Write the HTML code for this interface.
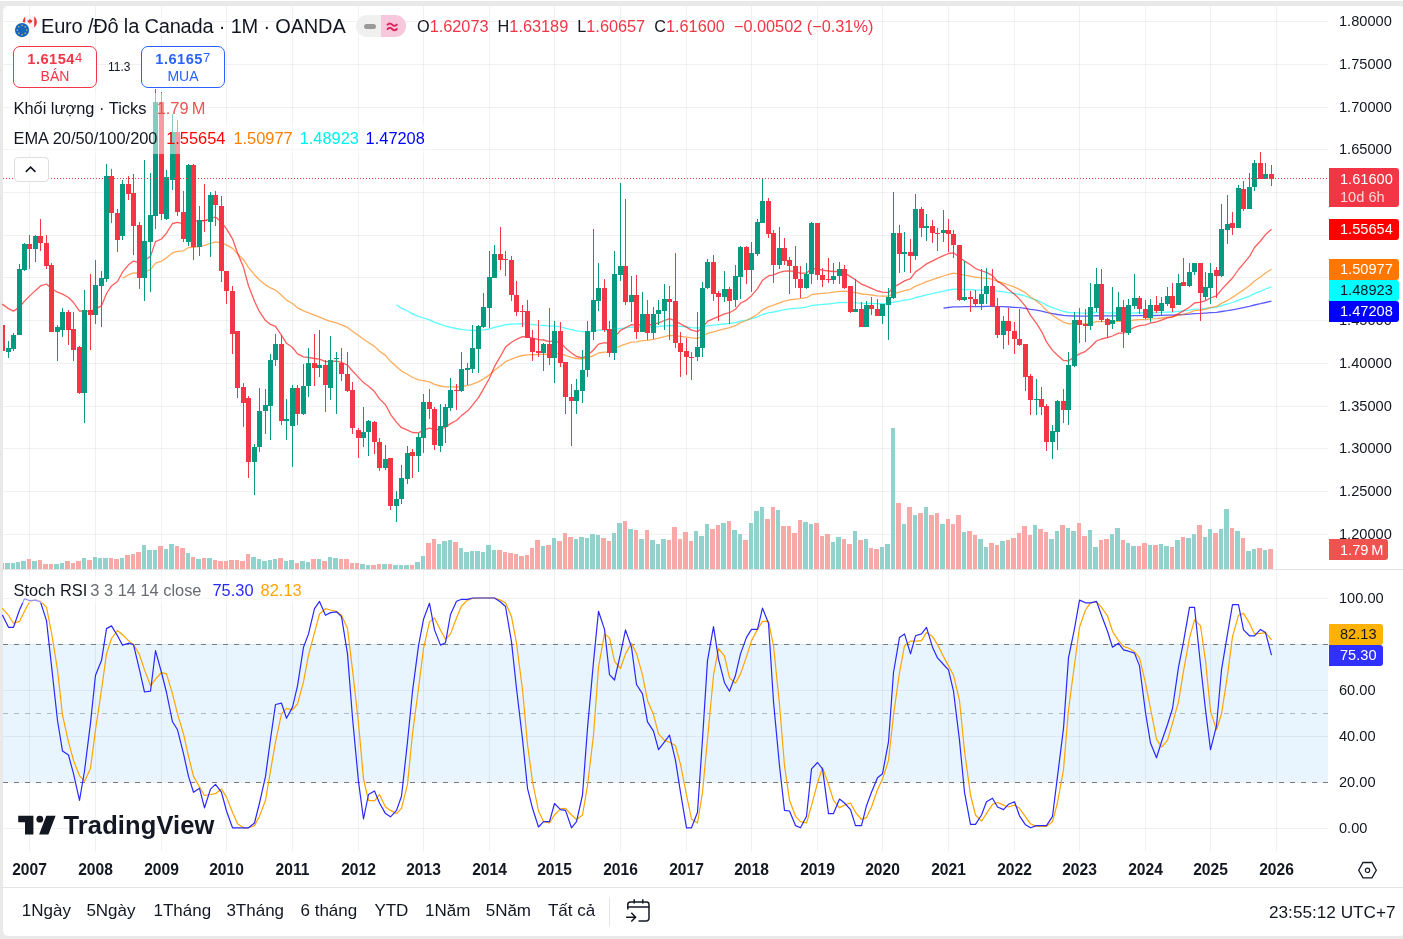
<!DOCTYPE html>
<html lang="vi"><head><meta charset="utf-8"><title>EURCAD</title>
<style>
html,body{margin:0;padding:0;width:1403px;height:939px;overflow:hidden;background:#e9e9e9;font-family:"Liberation Sans",Arial,sans-serif;color:#131722}
#topline{position:absolute;left:0;top:0;width:1403px;height:1px;background:#fff}
#panel{position:absolute;left:3px;top:6px;width:1402px;height:930px;background:#fff;border-radius:5px}
#chart{position:absolute;left:0;top:0}
.abs{position:absolute;white-space:nowrap}
.pl{position:absolute;left:1339px;font-size:14.6px;line-height:18px;white-space:nowrap;color:#131722}
.yr{position:absolute;top:861px;width:60px;text-align:center;font-weight:bold;font-size:15.6px;line-height:18px;color:#131722}
.lbl{position:absolute;left:1329px;width:70px;height:21px;border-radius:0 3px 3px 0;font-size:14.6px;line-height:21px;box-sizing:border-box;padding-left:11px;white-space:nowrap}
.leg{font-size:16.4px;line-height:20px;white-space:nowrap}
.tb{position:absolute;top:901px;font-size:17px;line-height:20px;color:#131722;white-space:nowrap}
</style></head><body>
<div id="topline"></div>
<div id="panel"></div>
<svg id="chart" width="1403" height="939" viewBox="0 0 1403 939" shape-rendering="crispEdges">
<rect x="3" y="21" width="1325" height="1" fill="#000" fill-opacity="0.055"/>
<rect x="3" y="64" width="1325" height="1" fill="#000" fill-opacity="0.055"/>
<rect x="3" y="107" width="1325" height="1" fill="#000" fill-opacity="0.055"/>
<rect x="3" y="149" width="1325" height="1" fill="#000" fill-opacity="0.055"/>
<rect x="3" y="192" width="1325" height="1" fill="#000" fill-opacity="0.055"/>
<rect x="3" y="235" width="1325" height="1" fill="#000" fill-opacity="0.055"/>
<rect x="3" y="277" width="1325" height="1" fill="#000" fill-opacity="0.055"/>
<rect x="3" y="320" width="1325" height="1" fill="#000" fill-opacity="0.055"/>
<rect x="3" y="363" width="1325" height="1" fill="#000" fill-opacity="0.055"/>
<rect x="3" y="406" width="1325" height="1" fill="#000" fill-opacity="0.055"/>
<rect x="3" y="448" width="1325" height="1" fill="#000" fill-opacity="0.055"/>
<rect x="3" y="491" width="1325" height="1" fill="#000" fill-opacity="0.055"/>
<rect x="3" y="534" width="1325" height="1" fill="#000" fill-opacity="0.055"/>
<rect x="3" y="598" width="1325" height="1" fill="#000" fill-opacity="0.055"/>
<rect x="3" y="644" width="1325" height="1" fill="#000" fill-opacity="0.055"/>
<rect x="3" y="690" width="1325" height="1" fill="#000" fill-opacity="0.055"/>
<rect x="3" y="736" width="1325" height="1" fill="#000" fill-opacity="0.055"/>
<rect x="3" y="782" width="1325" height="1" fill="#000" fill-opacity="0.055"/>
<rect x="3" y="828" width="1325" height="1" fill="#000" fill-opacity="0.055"/>
<rect x="3" y="644" width="1325" height="138" fill="#2196f3" fill-opacity="0.1"/>
<rect x="29" y="6" width="1" height="563" fill="#000" fill-opacity="0.055"/>
<rect x="29" y="570" width="1" height="281" fill="#000" fill-opacity="0.055"/>
<rect x="95" y="6" width="1" height="563" fill="#000" fill-opacity="0.055"/>
<rect x="95" y="570" width="1" height="281" fill="#000" fill-opacity="0.055"/>
<rect x="161" y="6" width="1" height="563" fill="#000" fill-opacity="0.055"/>
<rect x="161" y="570" width="1" height="281" fill="#000" fill-opacity="0.055"/>
<rect x="226" y="6" width="1" height="563" fill="#000" fill-opacity="0.055"/>
<rect x="226" y="570" width="1" height="281" fill="#000" fill-opacity="0.055"/>
<rect x="292" y="6" width="1" height="563" fill="#000" fill-opacity="0.055"/>
<rect x="292" y="570" width="1" height="281" fill="#000" fill-opacity="0.055"/>
<rect x="358" y="6" width="1" height="563" fill="#000" fill-opacity="0.055"/>
<rect x="358" y="570" width="1" height="281" fill="#000" fill-opacity="0.055"/>
<rect x="423" y="6" width="1" height="563" fill="#000" fill-opacity="0.055"/>
<rect x="423" y="570" width="1" height="281" fill="#000" fill-opacity="0.055"/>
<rect x="489" y="6" width="1" height="563" fill="#000" fill-opacity="0.055"/>
<rect x="489" y="570" width="1" height="281" fill="#000" fill-opacity="0.055"/>
<rect x="554" y="6" width="1" height="563" fill="#000" fill-opacity="0.055"/>
<rect x="554" y="570" width="1" height="281" fill="#000" fill-opacity="0.055"/>
<rect x="620" y="6" width="1" height="563" fill="#000" fill-opacity="0.055"/>
<rect x="620" y="570" width="1" height="281" fill="#000" fill-opacity="0.055"/>
<rect x="686" y="6" width="1" height="563" fill="#000" fill-opacity="0.055"/>
<rect x="686" y="570" width="1" height="281" fill="#000" fill-opacity="0.055"/>
<rect x="751" y="6" width="1" height="563" fill="#000" fill-opacity="0.055"/>
<rect x="751" y="570" width="1" height="281" fill="#000" fill-opacity="0.055"/>
<rect x="817" y="6" width="1" height="563" fill="#000" fill-opacity="0.055"/>
<rect x="817" y="570" width="1" height="281" fill="#000" fill-opacity="0.055"/>
<rect x="882" y="6" width="1" height="563" fill="#000" fill-opacity="0.055"/>
<rect x="882" y="570" width="1" height="281" fill="#000" fill-opacity="0.055"/>
<rect x="948" y="6" width="1" height="563" fill="#000" fill-opacity="0.055"/>
<rect x="948" y="570" width="1" height="281" fill="#000" fill-opacity="0.055"/>
<rect x="1014" y="6" width="1" height="563" fill="#000" fill-opacity="0.055"/>
<rect x="1014" y="570" width="1" height="281" fill="#000" fill-opacity="0.055"/>
<rect x="1079" y="6" width="1" height="563" fill="#000" fill-opacity="0.055"/>
<rect x="1079" y="570" width="1" height="281" fill="#000" fill-opacity="0.055"/>
<rect x="1145" y="6" width="1" height="563" fill="#000" fill-opacity="0.055"/>
<rect x="1145" y="570" width="1" height="281" fill="#000" fill-opacity="0.055"/>
<rect x="1210" y="6" width="1" height="563" fill="#000" fill-opacity="0.055"/>
<rect x="1210" y="570" width="1" height="281" fill="#000" fill-opacity="0.055"/>
<rect x="1276" y="6" width="1" height="563" fill="#000" fill-opacity="0.055"/>
<rect x="1276" y="570" width="1" height="281" fill="#000" fill-opacity="0.055"/>
<line x1="3" x2="1328" y1="644.5" y2="644.5" stroke="#787b86" stroke-width="1" stroke-dasharray="5 6"/>
<line x1="3" x2="1328" y1="782.5" y2="782.5" stroke="#787b86" stroke-width="1" stroke-dasharray="5 6"/>
<line x1="3" x2="1328" y1="713.5" y2="713.5" stroke="#787b86" stroke-opacity="0.5" stroke-width="1" stroke-dasharray="5 6"/>
<rect x="3" y="563" width="1" height="6" fill="#f7a9a7"/>
<rect x="5" y="563" width="5" height="6" fill="#92d2cc"/>
<rect x="11" y="563" width="4" height="6" fill="#92d2cc"/>
<rect x="16" y="562" width="4" height="7" fill="#92d2cc"/>
<rect x="21" y="561" width="5" height="8" fill="#92d2cc"/>
<rect x="27" y="559" width="4" height="10" fill="#f7a9a7"/>
<rect x="32" y="561" width="5" height="8" fill="#92d2cc"/>
<rect x="38" y="560" width="4" height="9" fill="#f7a9a7"/>
<rect x="43" y="564" width="5" height="5" fill="#f7a9a7"/>
<rect x="49" y="564" width="4" height="5" fill="#f7a9a7"/>
<rect x="54" y="564" width="5" height="5" fill="#92d2cc"/>
<rect x="60" y="563" width="4" height="6" fill="#92d2cc"/>
<rect x="65" y="561" width="5" height="8" fill="#f7a9a7"/>
<rect x="71" y="563" width="4" height="6" fill="#f7a9a7"/>
<rect x="76" y="561" width="5" height="8" fill="#f7a9a7"/>
<rect x="82" y="558" width="4" height="11" fill="#92d2cc"/>
<rect x="87" y="560" width="5" height="9" fill="#f7a9a7"/>
<rect x="93" y="557" width="4" height="12" fill="#92d2cc"/>
<rect x="98" y="558" width="4" height="11" fill="#92d2cc"/>
<rect x="103" y="558" width="5" height="11" fill="#92d2cc"/>
<rect x="109" y="558" width="4" height="11" fill="#f7a9a7"/>
<rect x="114" y="559" width="5" height="10" fill="#f7a9a7"/>
<rect x="120" y="558" width="4" height="11" fill="#92d2cc"/>
<rect x="125" y="555" width="5" height="14" fill="#f7a9a7"/>
<rect x="131" y="554" width="4" height="15" fill="#f7a9a7"/>
<rect x="136" y="552" width="5" height="17" fill="#f7a9a7"/>
<rect x="142" y="545" width="4" height="24" fill="#92d2cc"/>
<rect x="147" y="550" width="5" height="19" fill="#92d2cc"/>
<rect x="153" y="550" width="4" height="19" fill="#92d2cc"/>
<rect x="158" y="546" width="5" height="23" fill="#f7a9a7"/>
<rect x="164" y="549" width="4" height="20" fill="#92d2cc"/>
<rect x="169" y="544" width="5" height="25" fill="#92d2cc"/>
<rect x="175" y="546" width="4" height="23" fill="#f7a9a7"/>
<rect x="180" y="548" width="5" height="21" fill="#f7a9a7"/>
<rect x="186" y="553" width="4" height="16" fill="#92d2cc"/>
<rect x="191" y="557" width="4" height="12" fill="#f7a9a7"/>
<rect x="196" y="559" width="5" height="10" fill="#92d2cc"/>
<rect x="202" y="558" width="4" height="11" fill="#f7a9a7"/>
<rect x="207" y="558" width="5" height="11" fill="#92d2cc"/>
<rect x="213" y="560" width="4" height="9" fill="#f7a9a7"/>
<rect x="218" y="561" width="5" height="8" fill="#f7a9a7"/>
<rect x="224" y="561" width="4" height="8" fill="#f7a9a7"/>
<rect x="229" y="560" width="5" height="9" fill="#f7a9a7"/>
<rect x="235" y="560" width="4" height="9" fill="#f7a9a7"/>
<rect x="240" y="561" width="5" height="8" fill="#f7a9a7"/>
<rect x="246" y="554" width="4" height="15" fill="#f7a9a7"/>
<rect x="251" y="557" width="5" height="12" fill="#92d2cc"/>
<rect x="257" y="559" width="4" height="10" fill="#92d2cc"/>
<rect x="262" y="561" width="5" height="8" fill="#92d2cc"/>
<rect x="268" y="560" width="4" height="9" fill="#92d2cc"/>
<rect x="273" y="559" width="4" height="10" fill="#92d2cc"/>
<rect x="278" y="558" width="5" height="11" fill="#f7a9a7"/>
<rect x="284" y="561" width="4" height="8" fill="#92d2cc"/>
<rect x="289" y="560" width="5" height="9" fill="#92d2cc"/>
<rect x="295" y="563" width="4" height="6" fill="#f7a9a7"/>
<rect x="300" y="561" width="5" height="8" fill="#92d2cc"/>
<rect x="306" y="562" width="4" height="7" fill="#92d2cc"/>
<rect x="311" y="559" width="5" height="10" fill="#f7a9a7"/>
<rect x="317" y="559" width="4" height="10" fill="#92d2cc"/>
<rect x="322" y="561" width="5" height="8" fill="#f7a9a7"/>
<rect x="328" y="557" width="4" height="12" fill="#92d2cc"/>
<rect x="333" y="558" width="5" height="11" fill="#92d2cc"/>
<rect x="339" y="559" width="4" height="10" fill="#f7a9a7"/>
<rect x="344" y="559" width="5" height="10" fill="#f7a9a7"/>
<rect x="350" y="563" width="4" height="6" fill="#f7a9a7"/>
<rect x="355" y="563" width="4" height="6" fill="#f7a9a7"/>
<rect x="360" y="564" width="5" height="5" fill="#92d2cc"/>
<rect x="366" y="565" width="4" height="4" fill="#92d2cc"/>
<rect x="371" y="565" width="5" height="4" fill="#f7a9a7"/>
<rect x="377" y="564" width="4" height="5" fill="#f7a9a7"/>
<rect x="382" y="564" width="5" height="5" fill="#92d2cc"/>
<rect x="388" y="564" width="4" height="5" fill="#f7a9a7"/>
<rect x="393" y="565" width="5" height="4" fill="#92d2cc"/>
<rect x="399" y="565" width="4" height="4" fill="#92d2cc"/>
<rect x="404" y="565" width="5" height="4" fill="#92d2cc"/>
<rect x="410" y="565" width="4" height="4" fill="#f7a9a7"/>
<rect x="415" y="562" width="5" height="7" fill="#92d2cc"/>
<rect x="421" y="556" width="4" height="13" fill="#92d2cc"/>
<rect x="426" y="543" width="5" height="26" fill="#f7a9a7"/>
<rect x="432" y="539" width="4" height="30" fill="#f7a9a7"/>
<rect x="437" y="544" width="4" height="25" fill="#92d2cc"/>
<rect x="442" y="541" width="5" height="28" fill="#92d2cc"/>
<rect x="448" y="540" width="4" height="29" fill="#92d2cc"/>
<rect x="453" y="542" width="5" height="27" fill="#f7a9a7"/>
<rect x="459" y="548" width="4" height="21" fill="#92d2cc"/>
<rect x="464" y="552" width="5" height="17" fill="#92d2cc"/>
<rect x="470" y="551" width="4" height="18" fill="#92d2cc"/>
<rect x="475" y="551" width="5" height="18" fill="#92d2cc"/>
<rect x="481" y="552" width="4" height="17" fill="#92d2cc"/>
<rect x="486" y="545" width="5" height="24" fill="#92d2cc"/>
<rect x="492" y="550" width="4" height="19" fill="#92d2cc"/>
<rect x="497" y="550" width="5" height="19" fill="#f7a9a7"/>
<rect x="503" y="552" width="4" height="17" fill="#f7a9a7"/>
<rect x="508" y="553" width="5" height="16" fill="#f7a9a7"/>
<rect x="514" y="554" width="4" height="15" fill="#f7a9a7"/>
<rect x="519" y="556" width="5" height="13" fill="#f7a9a7"/>
<rect x="525" y="555" width="4" height="14" fill="#f7a9a7"/>
<rect x="530" y="548" width="4" height="21" fill="#f7a9a7"/>
<rect x="535" y="540" width="5" height="29" fill="#f7a9a7"/>
<rect x="541" y="546" width="4" height="23" fill="#92d2cc"/>
<rect x="546" y="545" width="5" height="24" fill="#f7a9a7"/>
<rect x="552" y="538" width="4" height="31" fill="#92d2cc"/>
<rect x="557" y="541" width="5" height="28" fill="#f7a9a7"/>
<rect x="563" y="533" width="4" height="36" fill="#f7a9a7"/>
<rect x="568" y="537" width="5" height="32" fill="#f7a9a7"/>
<rect x="574" y="539" width="4" height="30" fill="#92d2cc"/>
<rect x="579" y="537" width="5" height="32" fill="#92d2cc"/>
<rect x="585" y="538" width="4" height="31" fill="#92d2cc"/>
<rect x="590" y="534" width="5" height="35" fill="#92d2cc"/>
<rect x="596" y="535" width="4" height="34" fill="#92d2cc"/>
<rect x="601" y="538" width="5" height="31" fill="#f7a9a7"/>
<rect x="607" y="541" width="4" height="28" fill="#f7a9a7"/>
<rect x="612" y="533" width="4" height="36" fill="#92d2cc"/>
<rect x="617" y="523" width="5" height="46" fill="#92d2cc"/>
<rect x="623" y="521" width="4" height="48" fill="#f7a9a7"/>
<rect x="628" y="529" width="5" height="40" fill="#92d2cc"/>
<rect x="634" y="530" width="4" height="39" fill="#f7a9a7"/>
<rect x="639" y="539" width="5" height="30" fill="#92d2cc"/>
<rect x="645" y="530" width="4" height="39" fill="#f7a9a7"/>
<rect x="650" y="540" width="5" height="29" fill="#92d2cc"/>
<rect x="656" y="544" width="4" height="25" fill="#92d2cc"/>
<rect x="661" y="539" width="5" height="30" fill="#92d2cc"/>
<rect x="667" y="540" width="4" height="29" fill="#f7a9a7"/>
<rect x="672" y="527" width="5" height="42" fill="#f7a9a7"/>
<rect x="678" y="539" width="4" height="30" fill="#f7a9a7"/>
<rect x="683" y="532" width="5" height="37" fill="#f7a9a7"/>
<rect x="689" y="541" width="4" height="28" fill="#f7a9a7"/>
<rect x="694" y="531" width="4" height="38" fill="#92d2cc"/>
<rect x="699" y="536" width="5" height="33" fill="#92d2cc"/>
<rect x="705" y="524" width="4" height="45" fill="#92d2cc"/>
<rect x="710" y="529" width="5" height="40" fill="#f7a9a7"/>
<rect x="716" y="525" width="4" height="44" fill="#f7a9a7"/>
<rect x="721" y="523" width="5" height="46" fill="#92d2cc"/>
<rect x="727" y="521" width="4" height="48" fill="#f7a9a7"/>
<rect x="732" y="530" width="5" height="39" fill="#92d2cc"/>
<rect x="738" y="534" width="4" height="35" fill="#92d2cc"/>
<rect x="743" y="540" width="5" height="29" fill="#f7a9a7"/>
<rect x="749" y="523" width="4" height="46" fill="#92d2cc"/>
<rect x="754" y="511" width="5" height="58" fill="#92d2cc"/>
<rect x="760" y="507" width="4" height="62" fill="#92d2cc"/>
<rect x="765" y="519" width="5" height="50" fill="#f7a9a7"/>
<rect x="771" y="507" width="4" height="62" fill="#f7a9a7"/>
<rect x="776" y="510" width="4" height="59" fill="#92d2cc"/>
<rect x="781" y="526" width="5" height="43" fill="#f7a9a7"/>
<rect x="787" y="526" width="4" height="43" fill="#f7a9a7"/>
<rect x="792" y="533" width="5" height="36" fill="#f7a9a7"/>
<rect x="798" y="520" width="4" height="49" fill="#f7a9a7"/>
<rect x="803" y="522" width="5" height="47" fill="#92d2cc"/>
<rect x="809" y="524" width="4" height="45" fill="#92d2cc"/>
<rect x="814" y="523" width="5" height="46" fill="#f7a9a7"/>
<rect x="820" y="536" width="4" height="33" fill="#f7a9a7"/>
<rect x="825" y="534" width="5" height="35" fill="#f7a9a7"/>
<rect x="831" y="542" width="4" height="27" fill="#92d2cc"/>
<rect x="836" y="537" width="5" height="32" fill="#92d2cc"/>
<rect x="842" y="539" width="4" height="30" fill="#f7a9a7"/>
<rect x="847" y="544" width="5" height="25" fill="#f7a9a7"/>
<rect x="853" y="531" width="4" height="38" fill="#92d2cc"/>
<rect x="858" y="540" width="5" height="29" fill="#f7a9a7"/>
<rect x="864" y="539" width="4" height="30" fill="#92d2cc"/>
<rect x="869" y="548" width="4" height="21" fill="#f7a9a7"/>
<rect x="874" y="549" width="5" height="20" fill="#f7a9a7"/>
<rect x="880" y="547" width="4" height="22" fill="#92d2cc"/>
<rect x="885" y="544" width="5" height="25" fill="#92d2cc"/>
<rect x="891" y="428" width="4" height="141" fill="#92d2cc"/>
<rect x="896" y="503" width="5" height="66" fill="#f7a9a7"/>
<rect x="902" y="524" width="4" height="45" fill="#92d2cc"/>
<rect x="907" y="507" width="5" height="62" fill="#f7a9a7"/>
<rect x="913" y="515" width="4" height="54" fill="#92d2cc"/>
<rect x="918" y="513" width="5" height="56" fill="#f7a9a7"/>
<rect x="924" y="507" width="4" height="62" fill="#92d2cc"/>
<rect x="929" y="515" width="5" height="54" fill="#f7a9a7"/>
<rect x="935" y="513" width="4" height="56" fill="#f7a9a7"/>
<rect x="940" y="524" width="5" height="45" fill="#92d2cc"/>
<rect x="946" y="519" width="4" height="50" fill="#f7a9a7"/>
<rect x="951" y="524" width="4" height="45" fill="#f7a9a7"/>
<rect x="956" y="515" width="5" height="54" fill="#f7a9a7"/>
<rect x="962" y="532" width="4" height="37" fill="#92d2cc"/>
<rect x="967" y="531" width="5" height="38" fill="#f7a9a7"/>
<rect x="973" y="535" width="4" height="34" fill="#f7a9a7"/>
<rect x="978" y="539" width="5" height="30" fill="#92d2cc"/>
<rect x="984" y="547" width="4" height="22" fill="#92d2cc"/>
<rect x="989" y="543" width="5" height="26" fill="#f7a9a7"/>
<rect x="995" y="545" width="4" height="24" fill="#f7a9a7"/>
<rect x="1000" y="541" width="5" height="28" fill="#92d2cc"/>
<rect x="1006" y="540" width="4" height="29" fill="#f7a9a7"/>
<rect x="1011" y="538" width="5" height="31" fill="#f7a9a7"/>
<rect x="1017" y="533" width="4" height="36" fill="#f7a9a7"/>
<rect x="1022" y="526" width="5" height="43" fill="#f7a9a7"/>
<rect x="1028" y="535" width="4" height="34" fill="#f7a9a7"/>
<rect x="1033" y="525" width="4" height="44" fill="#92d2cc"/>
<rect x="1038" y="529" width="5" height="40" fill="#f7a9a7"/>
<rect x="1044" y="532" width="4" height="37" fill="#f7a9a7"/>
<rect x="1049" y="539" width="5" height="30" fill="#92d2cc"/>
<rect x="1055" y="531" width="4" height="38" fill="#92d2cc"/>
<rect x="1060" y="525" width="5" height="44" fill="#f7a9a7"/>
<rect x="1066" y="528" width="4" height="41" fill="#92d2cc"/>
<rect x="1071" y="531" width="5" height="38" fill="#92d2cc"/>
<rect x="1077" y="523" width="4" height="46" fill="#f7a9a7"/>
<rect x="1082" y="536" width="5" height="33" fill="#f7a9a7"/>
<rect x="1088" y="530" width="4" height="39" fill="#92d2cc"/>
<rect x="1093" y="547" width="5" height="22" fill="#92d2cc"/>
<rect x="1099" y="540" width="4" height="29" fill="#f7a9a7"/>
<rect x="1104" y="539" width="5" height="30" fill="#f7a9a7"/>
<rect x="1110" y="534" width="4" height="35" fill="#92d2cc"/>
<rect x="1115" y="528" width="5" height="41" fill="#92d2cc"/>
<rect x="1121" y="540" width="4" height="29" fill="#f7a9a7"/>
<rect x="1126" y="543" width="4" height="26" fill="#92d2cc"/>
<rect x="1131" y="546" width="5" height="23" fill="#92d2cc"/>
<rect x="1137" y="546" width="4" height="23" fill="#f7a9a7"/>
<rect x="1142" y="543" width="5" height="26" fill="#f7a9a7"/>
<rect x="1148" y="545" width="4" height="24" fill="#92d2cc"/>
<rect x="1153" y="545" width="5" height="24" fill="#f7a9a7"/>
<rect x="1159" y="544" width="4" height="25" fill="#92d2cc"/>
<rect x="1164" y="546" width="5" height="23" fill="#92d2cc"/>
<rect x="1170" y="547" width="4" height="22" fill="#f7a9a7"/>
<rect x="1175" y="540" width="5" height="29" fill="#92d2cc"/>
<rect x="1181" y="537" width="4" height="32" fill="#f7a9a7"/>
<rect x="1186" y="538" width="5" height="31" fill="#92d2cc"/>
<rect x="1192" y="534" width="4" height="35" fill="#92d2cc"/>
<rect x="1197" y="525" width="5" height="44" fill="#f7a9a7"/>
<rect x="1203" y="537" width="4" height="32" fill="#92d2cc"/>
<rect x="1208" y="529" width="4" height="40" fill="#92d2cc"/>
<rect x="1213" y="533" width="5" height="36" fill="#f7a9a7"/>
<rect x="1219" y="529" width="4" height="40" fill="#92d2cc"/>
<rect x="1224" y="509" width="5" height="60" fill="#92d2cc"/>
<rect x="1230" y="528" width="4" height="41" fill="#f7a9a7"/>
<rect x="1235" y="531" width="5" height="38" fill="#92d2cc"/>
<rect x="1241" y="538" width="4" height="31" fill="#f7a9a7"/>
<rect x="1246" y="551" width="5" height="18" fill="#92d2cc"/>
<rect x="1252" y="549" width="4" height="20" fill="#92d2cc"/>
<rect x="1257" y="548" width="5" height="21" fill="#f7a9a7"/>
<rect x="1263" y="550" width="4" height="19" fill="#92d2cc"/>
<rect x="1268" y="549" width="5" height="20" fill="#f7a9a7"/>
<polyline points="943.5,308.2 948.5,307.5 953.5,306.9 959.5,306.8 964.5,306.7 970.5,306.7 975.5,306.6 981.5,306.5 986.5,306.3 992.5,306.3 997.5,306.6 1003.5,306.7 1008.5,307.0 1014.5,307.3 1019.5,307.7 1025.5,308.4 1030.5,309.3 1036.5,310.2 1041.5,311.1 1046.5,312.4 1052.5,313.6 1057.5,314.5 1063.5,315.4 1068.5,315.9 1074.5,316.0 1079.5,316.1 1085.5,316.2 1090.5,316.1 1096.5,315.7 1101.5,315.8 1107.5,315.9 1112.5,315.9 1118.5,315.8 1123.5,316.0 1128.5,315.9 1134.5,315.7 1139.5,315.6 1145.5,315.7 1150.5,315.6 1156.5,315.5 1161.5,315.4 1167.5,315.2 1172.5,315.1 1178.5,314.8 1183.5,314.5 1189.5,314.1 1194.5,313.6 1200.5,313.4 1205.5,313.1 1210.5,312.7 1216.5,312.4 1221.5,311.5 1227.5,310.7 1232.5,309.8 1238.5,308.6 1243.5,307.6 1249.5,306.4 1254.5,305.0 1260.5,303.7 1265.5,302.5 1271.5,301.2" fill="none" stroke="#0000ff" stroke-opacity="0.64" stroke-width="1.3" stroke-linejoin="round" shape-rendering="geometricPrecision"/>
<polyline points="396.5,304.7 401.5,308.2 407.5,311.0 412.5,313.9 418.5,316.3 423.5,318.0 429.5,319.8 434.5,322.3 440.5,324.4 445.5,326.0 450.5,327.3 456.5,328.5 461.5,329.3 467.5,330.1 472.5,330.5 478.5,330.4 483.5,329.9 489.5,328.9 494.5,327.4 500.5,326.0 505.5,324.7 511.5,324.1 516.5,323.9 522.5,323.7 527.5,323.9 532.5,324.5 538.5,325.1 543.5,325.4 549.5,326.1 554.5,326.2 560.5,326.9 565.5,328.3 571.5,329.7 576.5,330.9 582.5,331.7 587.5,331.7 593.5,331.1 598.5,330.2 604.5,330.2 609.5,330.6 614.5,329.5 620.5,328.3 625.5,327.8 631.5,327.1 636.5,327.2 642.5,326.9 647.5,327.1 653.5,326.8 658.5,326.5 664.5,325.9 669.5,325.5 675.5,325.8 680.5,326.3 686.5,326.9 691.5,327.6 697.5,328.0 702.5,327.2 707.5,325.9 713.5,325.2 718.5,324.7 724.5,324.0 729.5,323.5 735.5,322.6 740.5,321.1 746.5,320.1 751.5,318.7 757.5,316.8 762.5,314.5 768.5,312.9 773.5,312.0 779.5,310.7 784.5,309.7 789.5,308.9 795.5,308.3 800.5,307.9 806.5,307.2 811.5,305.5 817.5,304.9 822.5,304.4 828.5,304.0 833.5,303.4 839.5,302.7 844.5,302.4 850.5,302.6 855.5,302.8 861.5,303.2 866.5,303.3 871.5,303.4 877.5,303.6 882.5,303.6 888.5,303.5 893.5,302.1 899.5,301.2 904.5,300.2 910.5,299.3 915.5,297.5 921.5,296.2 926.5,294.8 932.5,293.6 937.5,292.4 943.5,291.1 948.5,290.0 953.5,289.1 959.5,289.3 964.5,289.5 970.5,289.7 975.5,290.0 981.5,290.1 986.5,290.0 992.5,290.3 997.5,291.2 1003.5,291.8 1008.5,292.6 1014.5,293.5 1019.5,294.5 1025.5,296.1 1030.5,298.2 1036.5,300.2 1041.5,302.3 1046.5,305.1 1052.5,307.6 1057.5,309.4 1063.5,311.4 1068.5,312.5 1074.5,312.6 1079.5,312.9 1085.5,313.1 1090.5,313.0 1096.5,312.4 1101.5,312.6 1107.5,312.8 1112.5,313.0 1118.5,312.9 1123.5,313.2 1128.5,313.1 1134.5,312.8 1139.5,312.7 1145.5,312.8 1150.5,312.7 1156.5,312.6 1161.5,312.4 1167.5,312.1 1172.5,312.0 1178.5,311.4 1183.5,310.9 1189.5,310.2 1194.5,309.2 1200.5,308.9 1205.5,308.5 1210.5,307.8 1216.5,307.2 1221.5,305.6 1227.5,304.0 1232.5,302.5 1238.5,300.2 1243.5,298.4 1249.5,296.2 1254.5,293.6 1260.5,291.3 1265.5,289.0 1271.5,286.8" fill="none" stroke="#00ffff" stroke-opacity="0.64" stroke-width="1.3" stroke-linejoin="round" shape-rendering="geometricPrecision"/>
<polyline points="122.5,278.2 128.5,274.9 133.5,272.9 139.5,273.1 144.5,271.9 150.5,269.6 155.5,263.1 161.5,261.1 166.5,257.8 172.5,252.9 177.5,251.3 183.5,250.8 188.5,247.5 193.5,247.4 199.5,246.3 204.5,245.3 210.5,243.4 215.5,241.9 221.5,243.0 226.5,244.9 232.5,248.4 237.5,253.9 243.5,259.7 248.5,267.6 254.5,274.7 259.5,280.0 265.5,284.9 270.5,287.9 275.5,290.1 281.5,295.2 286.5,300.1 292.5,303.5 297.5,307.8 303.5,310.9 308.5,312.9 314.5,315.1 319.5,317.1 325.5,319.7 330.5,321.3 336.5,322.8 341.5,324.8 347.5,327.4 352.5,331.3 358.5,335.5 363.5,339.3 368.5,342.5 374.5,346.4 379.5,351.2 385.5,355.4 390.5,361.3 396.5,366.7 401.5,371.1 407.5,374.3 412.5,377.5 418.5,379.8 423.5,380.7 429.5,381.8 434.5,384.3 440.5,386.0 445.5,386.8 450.5,386.9 456.5,387.0 461.5,386.3 467.5,385.6 472.5,384.2 478.5,381.9 483.5,378.9 489.5,374.9 494.5,370.2 500.5,365.8 505.5,361.7 511.5,359.1 516.5,357.2 522.5,355.5 527.5,354.8 532.5,354.6 538.5,354.6 543.5,354.2 549.5,354.3 554.5,353.4 560.5,353.8 565.5,355.4 571.5,357.3 576.5,358.5 582.5,359.0 587.5,357.9 593.5,355.6 598.5,353.0 604.5,352.1 609.5,352.1 614.5,349.0 620.5,345.8 625.5,344.1 631.5,342.2 636.5,341.8 642.5,340.7 647.5,340.4 653.5,339.4 658.5,338.2 664.5,336.7 669.5,335.3 675.5,335.6 680.5,336.3 686.5,337.1 691.5,337.9 697.5,338.3 702.5,336.3 707.5,333.4 713.5,331.8 718.5,330.4 724.5,328.8 729.5,327.7 735.5,325.7 740.5,322.6 746.5,320.5 751.5,317.9 757.5,314.2 762.5,309.7 768.5,306.8 773.5,305.1 779.5,302.9 784.5,301.2 789.5,299.9 795.5,299.1 800.5,298.6 806.5,297.7 811.5,294.7 817.5,293.9 822.5,293.4 828.5,292.9 833.5,292.2 839.5,291.3 844.5,291.2 850.5,292.0 855.5,292.7 861.5,294.0 866.5,294.4 871.5,295.0 877.5,295.9 882.5,296.2 888.5,296.2 893.5,293.7 899.5,292.2 904.5,290.6 910.5,289.3 915.5,286.1 921.5,283.9 926.5,281.6 932.5,279.7 937.5,277.9 943.5,276.0 948.5,274.4 953.5,273.2 959.5,274.3 964.5,275.2 970.5,276.1 975.5,277.2 981.5,277.9 986.5,278.2 992.5,279.3 997.5,281.5 1003.5,283.1 1008.5,285.0 1014.5,287.1 1019.5,289.4 1025.5,292.8 1030.5,297.0 1036.5,301.0 1041.5,305.1 1046.5,310.5 1052.5,315.3 1057.5,318.6 1063.5,322.2 1068.5,323.9 1074.5,323.7 1079.5,323.8 1085.5,323.9 1090.5,323.2 1096.5,321.7 1101.5,321.6 1107.5,321.7 1112.5,321.7 1118.5,321.1 1123.5,321.5 1128.5,320.9 1134.5,320.0 1139.5,319.6 1145.5,319.5 1150.5,318.9 1156.5,318.6 1161.5,318.0 1167.5,317.1 1172.5,316.8 1178.5,315.4 1183.5,314.3 1189.5,312.6 1194.5,310.7 1200.5,310.0 1205.5,309.1 1210.5,307.7 1216.5,306.4 1221.5,303.4 1227.5,300.3 1232.5,297.4 1238.5,293.2 1243.5,289.9 1249.5,285.8 1254.5,281.0 1260.5,277.0 1265.5,273.0 1271.5,269.2" fill="none" stroke="#ff7f00" stroke-opacity="0.64" stroke-width="1.3" stroke-linejoin="round" shape-rendering="geometricPrecision"/>
<polyline points="3.0,304.4 2.5,304.4 8.5,308.6 13.5,311.1 19.5,307.1 24.5,301.1 29.5,296.1 35.5,290.4 40.5,285.9 46.5,284.0 51.5,288.5 57.5,292.2 62.5,294.1 68.5,297.5 73.5,302.5 79.5,311.1 84.5,311.0 90.5,311.4 95.5,308.9 101.5,305.9 106.5,293.5 111.5,285.9 117.5,281.5 122.5,272.2 128.5,264.8 133.5,261.1 139.5,262.6 144.5,260.6 150.5,256.3 155.5,241.6 161.5,239.0 166.5,233.1 172.5,223.5 177.5,222.3 183.5,223.9 188.5,218.3 193.5,221.0 199.5,220.9 204.5,220.8 210.5,218.4 215.5,217.1 221.5,222.2 226.5,228.8 232.5,238.8 237.5,253.0 243.5,267.3 248.5,285.8 254.5,301.2 259.5,311.7 265.5,320.6 270.5,324.4 275.5,326.3 281.5,335.3 286.5,343.3 292.5,347.5 297.5,353.8 303.5,356.8 308.5,357.5 314.5,358.5 319.5,359.1 325.5,361.6 330.5,361.4 336.5,361.1 341.5,362.4 347.5,365.1 352.5,371.0 358.5,377.4 363.5,382.6 368.5,386.3 374.5,391.6 379.5,398.9 385.5,404.7 390.5,414.3 396.5,422.4 401.5,427.7 407.5,430.1 412.5,432.5 418.5,432.9 423.5,430.0 429.5,428.1 434.5,429.7 440.5,429.4 445.5,427.2 450.5,423.6 456.5,420.5 461.5,415.6 467.5,411.1 472.5,405.1 478.5,397.6 483.5,388.9 489.5,378.3 494.5,366.4 500.5,356.2 505.5,347.1 511.5,342.2 516.5,339.3 522.5,336.6 527.5,336.8 532.5,338.2 538.5,339.6 543.5,340.0 549.5,341.7 554.5,340.7 560.5,342.8 565.5,347.9 571.5,353.0 576.5,356.5 582.5,357.8 587.5,355.3 593.5,350.0 598.5,344.1 604.5,342.7 609.5,343.7 614.5,337.1 620.5,330.4 625.5,327.7 631.5,324.6 636.5,325.3 642.5,324.2 647.5,325.1 653.5,324.1 658.5,322.8 664.5,320.5 669.5,318.7 675.5,321.0 680.5,323.9 686.5,327.1 691.5,330.1 697.5,331.7 702.5,327.5 707.5,321.3 713.5,318.7 718.5,316.6 724.5,313.9 729.5,312.7 735.5,309.2 740.5,303.3 746.5,300.1 751.5,295.7 757.5,288.7 762.5,280.3 768.5,275.9 773.5,274.9 779.5,272.4 784.5,271.2 789.5,270.8 795.5,271.6 800.5,273.1 806.5,273.2 811.5,268.4 817.5,269.0 822.5,270.1 828.5,271.0 833.5,271.5 839.5,271.3 844.5,272.9 850.5,276.6 855.5,279.7 861.5,284.2 866.5,286.2 871.5,288.4 877.5,291.0 882.5,292.2 888.5,292.7 893.5,287.1 899.5,283.9 904.5,280.9 910.5,278.6 915.5,271.9 921.5,267.8 926.5,263.8 932.5,260.9 937.5,258.3 943.5,255.6 948.5,253.5 953.5,252.8 959.5,257.3 964.5,261.1 970.5,264.7 975.5,268.5 981.5,270.9 986.5,272.4 992.5,275.6 997.5,281.3 1003.5,285.1 1008.5,289.5 1014.5,294.2 1019.5,299.1 1025.5,306.4 1030.5,315.4 1036.5,323.4 1041.5,331.3 1046.5,341.9 1052.5,350.4 1057.5,355.2 1063.5,360.4 1068.5,360.8 1074.5,356.9 1079.5,353.9 1085.5,351.3 1090.5,347.0 1096.5,341.0 1101.5,339.0 1107.5,337.7 1112.5,336.0 1118.5,333.2 1123.5,333.2 1128.5,330.5 1134.5,327.4 1139.5,325.7 1145.5,324.9 1150.5,323.0 1156.5,321.9 1161.5,320.1 1167.5,317.8 1172.5,316.9 1178.5,313.6 1183.5,310.9 1189.5,307.2 1194.5,303.0 1200.5,302.1 1205.5,300.7 1210.5,298.0 1216.5,295.9 1221.5,289.6 1227.5,283.3 1232.5,278.0 1238.5,269.5 1243.5,263.7 1249.5,256.4 1254.5,247.5 1260.5,241.0 1265.5,234.6 1271.5,229.2" fill="none" stroke="#ff0000" stroke-opacity="0.64" stroke-width="1.3" stroke-linejoin="round" shape-rendering="geometricPrecision"/>
<rect x="3" y="325" width="2" height="26" fill="#f23645"/>
<rect x="8" y="341" width="1" height="17" fill="#089981"/>
<rect x="6" y="348" width="5" height="4" fill="#089981"/>
<rect x="13" y="333" width="1" height="18" fill="#089981"/>
<rect x="11" y="335" width="5" height="14" fill="#089981"/>
<rect x="19" y="264" width="1" height="71" fill="#089981"/>
<rect x="17" y="269" width="5" height="66" fill="#089981"/>
<rect x="24" y="243" width="1" height="28" fill="#089981"/>
<rect x="22" y="244" width="5" height="26" fill="#089981"/>
<rect x="29" y="235" width="1" height="34" fill="#f23645"/>
<rect x="27" y="244" width="5" height="5" fill="#f23645"/>
<rect x="35" y="235" width="1" height="27" fill="#089981"/>
<rect x="33" y="236" width="5" height="13" fill="#089981"/>
<rect x="40" y="219" width="1" height="32" fill="#f23645"/>
<rect x="38" y="236" width="5" height="7" fill="#f23645"/>
<rect x="46" y="235" width="1" height="34" fill="#f23645"/>
<rect x="44" y="243" width="5" height="23" fill="#f23645"/>
<rect x="51" y="263" width="1" height="69" fill="#f23645"/>
<rect x="49" y="265" width="5" height="67" fill="#f23645"/>
<rect x="57" y="325" width="1" height="36" fill="#089981"/>
<rect x="55" y="327" width="5" height="5" fill="#089981"/>
<rect x="62" y="308" width="1" height="29" fill="#089981"/>
<rect x="60" y="312" width="5" height="18" fill="#089981"/>
<rect x="68" y="310" width="1" height="35" fill="#f23645"/>
<rect x="66" y="312" width="5" height="18" fill="#f23645"/>
<rect x="73" y="312" width="1" height="49" fill="#f23645"/>
<rect x="71" y="329" width="5" height="21" fill="#f23645"/>
<rect x="79" y="346" width="1" height="48" fill="#f23645"/>
<rect x="77" y="347" width="5" height="46" fill="#f23645"/>
<rect x="84" y="290" width="1" height="133" fill="#089981"/>
<rect x="82" y="310" width="5" height="83" fill="#089981"/>
<rect x="90" y="274" width="1" height="76" fill="#f23645"/>
<rect x="88" y="310" width="5" height="5" fill="#f23645"/>
<rect x="95" y="260" width="1" height="64" fill="#089981"/>
<rect x="93" y="285" width="5" height="30" fill="#089981"/>
<rect x="101" y="271" width="1" height="56" fill="#089981"/>
<rect x="99" y="278" width="5" height="8" fill="#089981"/>
<rect x="106" y="164" width="1" height="118" fill="#089981"/>
<rect x="104" y="176" width="5" height="103" fill="#089981"/>
<rect x="111" y="169" width="1" height="54" fill="#f23645"/>
<rect x="109" y="176" width="5" height="37" fill="#f23645"/>
<rect x="117" y="209" width="1" height="43" fill="#f23645"/>
<rect x="115" y="213" width="5" height="27" fill="#f23645"/>
<rect x="122" y="180" width="1" height="60" fill="#089981"/>
<rect x="120" y="184" width="5" height="52" fill="#089981"/>
<rect x="128" y="176" width="1" height="24" fill="#f23645"/>
<rect x="126" y="184" width="5" height="10" fill="#f23645"/>
<rect x="133" y="174" width="1" height="81" fill="#f23645"/>
<rect x="131" y="193" width="5" height="33" fill="#f23645"/>
<rect x="139" y="222" width="1" height="67" fill="#f23645"/>
<rect x="137" y="225" width="5" height="53" fill="#f23645"/>
<rect x="144" y="160" width="1" height="141" fill="#089981"/>
<rect x="142" y="241" width="5" height="37" fill="#089981"/>
<rect x="150" y="173" width="1" height="119" fill="#089981"/>
<rect x="148" y="215" width="5" height="27" fill="#089981"/>
<rect x="155" y="89" width="1" height="140" fill="#089981"/>
<rect x="153" y="102" width="5" height="114" fill="#089981"/>
<rect x="161" y="92" width="1" height="128" fill="#f23645"/>
<rect x="159" y="102" width="5" height="112" fill="#f23645"/>
<rect x="166" y="170" width="1" height="50" fill="#089981"/>
<rect x="164" y="177" width="5" height="42" fill="#089981"/>
<rect x="172" y="114" width="1" height="76" fill="#089981"/>
<rect x="170" y="132" width="5" height="48" fill="#089981"/>
<rect x="177" y="120" width="1" height="96" fill="#f23645"/>
<rect x="175" y="132" width="5" height="80" fill="#f23645"/>
<rect x="183" y="191" width="1" height="51" fill="#f23645"/>
<rect x="181" y="212" width="5" height="27" fill="#f23645"/>
<rect x="188" y="164" width="1" height="82" fill="#089981"/>
<rect x="186" y="165" width="5" height="77" fill="#089981"/>
<rect x="193" y="164" width="1" height="96" fill="#f23645"/>
<rect x="191" y="165" width="5" height="82" fill="#f23645"/>
<rect x="199" y="206" width="1" height="50" fill="#089981"/>
<rect x="197" y="220" width="5" height="27" fill="#089981"/>
<rect x="204" y="184" width="1" height="48" fill="#f23645"/>
<rect x="202" y="220" width="5" height="1" fill="#f23645"/>
<rect x="210" y="192" width="1" height="65" fill="#089981"/>
<rect x="208" y="195" width="5" height="27" fill="#089981"/>
<rect x="215" y="191" width="1" height="35" fill="#f23645"/>
<rect x="213" y="195" width="5" height="10" fill="#f23645"/>
<rect x="221" y="196" width="1" height="86" fill="#f23645"/>
<rect x="219" y="206" width="5" height="65" fill="#f23645"/>
<rect x="226" y="271" width="1" height="33" fill="#f23645"/>
<rect x="224" y="271" width="5" height="20" fill="#f23645"/>
<rect x="232" y="286" width="1" height="68" fill="#f23645"/>
<rect x="230" y="291" width="5" height="43" fill="#f23645"/>
<rect x="237" y="331" width="1" height="67" fill="#f23645"/>
<rect x="235" y="331" width="5" height="57" fill="#f23645"/>
<rect x="243" y="383" width="1" height="44" fill="#f23645"/>
<rect x="241" y="387" width="5" height="16" fill="#f23645"/>
<rect x="248" y="396" width="1" height="82" fill="#f23645"/>
<rect x="246" y="398" width="5" height="64" fill="#f23645"/>
<rect x="254" y="444" width="1" height="51" fill="#089981"/>
<rect x="252" y="447" width="5" height="15" fill="#089981"/>
<rect x="259" y="388" width="1" height="64" fill="#089981"/>
<rect x="257" y="411" width="5" height="36" fill="#089981"/>
<rect x="265" y="389" width="1" height="45" fill="#089981"/>
<rect x="263" y="405" width="5" height="6" fill="#089981"/>
<rect x="270" y="354" width="1" height="86" fill="#089981"/>
<rect x="268" y="360" width="5" height="46" fill="#089981"/>
<rect x="275" y="334" width="1" height="32" fill="#089981"/>
<rect x="273" y="344" width="5" height="16" fill="#089981"/>
<rect x="281" y="335" width="1" height="90" fill="#f23645"/>
<rect x="279" y="344" width="5" height="77" fill="#f23645"/>
<rect x="286" y="399" width="1" height="41" fill="#089981"/>
<rect x="284" y="419" width="5" height="2" fill="#089981"/>
<rect x="292" y="385" width="1" height="82" fill="#089981"/>
<rect x="290" y="388" width="5" height="38" fill="#089981"/>
<rect x="297" y="385" width="1" height="40" fill="#f23645"/>
<rect x="295" y="388" width="5" height="26" fill="#f23645"/>
<rect x="303" y="364" width="1" height="51" fill="#089981"/>
<rect x="301" y="386" width="5" height="28" fill="#089981"/>
<rect x="308" y="348" width="1" height="49" fill="#089981"/>
<rect x="306" y="363" width="5" height="23" fill="#089981"/>
<rect x="314" y="334" width="1" height="52" fill="#f23645"/>
<rect x="312" y="363" width="5" height="5" fill="#f23645"/>
<rect x="319" y="330" width="1" height="47" fill="#089981"/>
<rect x="317" y="365" width="5" height="3" fill="#089981"/>
<rect x="325" y="360" width="1" height="52" fill="#f23645"/>
<rect x="323" y="365" width="5" height="20" fill="#f23645"/>
<rect x="330" y="336" width="1" height="64" fill="#089981"/>
<rect x="328" y="360" width="5" height="28" fill="#089981"/>
<rect x="336" y="352" width="1" height="62" fill="#089981"/>
<rect x="334" y="358" width="5" height="1" fill="#089981"/>
<rect x="341" y="348" width="1" height="33" fill="#f23645"/>
<rect x="339" y="363" width="5" height="11" fill="#f23645"/>
<rect x="347" y="352" width="1" height="40" fill="#f23645"/>
<rect x="345" y="374" width="5" height="17" fill="#f23645"/>
<rect x="352" y="382" width="1" height="52" fill="#f23645"/>
<rect x="350" y="390" width="5" height="38" fill="#f23645"/>
<rect x="358" y="428" width="1" height="30" fill="#f23645"/>
<rect x="356" y="430" width="5" height="8" fill="#f23645"/>
<rect x="363" y="407" width="1" height="40" fill="#089981"/>
<rect x="361" y="432" width="5" height="6" fill="#089981"/>
<rect x="368" y="420" width="1" height="36" fill="#089981"/>
<rect x="366" y="421" width="5" height="11" fill="#089981"/>
<rect x="374" y="421" width="1" height="33" fill="#f23645"/>
<rect x="372" y="422" width="5" height="20" fill="#f23645"/>
<rect x="379" y="438" width="1" height="33" fill="#f23645"/>
<rect x="377" y="442" width="5" height="26" fill="#f23645"/>
<rect x="385" y="445" width="1" height="25" fill="#089981"/>
<rect x="383" y="459" width="5" height="9" fill="#089981"/>
<rect x="390" y="458" width="1" height="52" fill="#f23645"/>
<rect x="388" y="458" width="5" height="48" fill="#f23645"/>
<rect x="396" y="491" width="1" height="31" fill="#089981"/>
<rect x="394" y="499" width="5" height="7" fill="#089981"/>
<rect x="401" y="465" width="1" height="39" fill="#089981"/>
<rect x="399" y="478" width="5" height="21" fill="#089981"/>
<rect x="407" y="446" width="1" height="38" fill="#089981"/>
<rect x="405" y="453" width="5" height="26" fill="#089981"/>
<rect x="412" y="449" width="1" height="29" fill="#f23645"/>
<rect x="410" y="452" width="5" height="4" fill="#f23645"/>
<rect x="418" y="433" width="1" height="39" fill="#089981"/>
<rect x="416" y="437" width="5" height="19" fill="#089981"/>
<rect x="423" y="394" width="1" height="59" fill="#089981"/>
<rect x="421" y="402" width="5" height="36" fill="#089981"/>
<rect x="429" y="389" width="1" height="30" fill="#f23645"/>
<rect x="427" y="402" width="5" height="7" fill="#f23645"/>
<rect x="434" y="407" width="1" height="43" fill="#f23645"/>
<rect x="432" y="409" width="5" height="36" fill="#f23645"/>
<rect x="440" y="404" width="1" height="48" fill="#089981"/>
<rect x="438" y="426" width="5" height="20" fill="#089981"/>
<rect x="445" y="404" width="1" height="39" fill="#089981"/>
<rect x="443" y="407" width="5" height="20" fill="#089981"/>
<rect x="450" y="378" width="1" height="33" fill="#089981"/>
<rect x="448" y="390" width="5" height="18" fill="#089981"/>
<rect x="456" y="384" width="1" height="26" fill="#f23645"/>
<rect x="454" y="390" width="5" height="1" fill="#f23645"/>
<rect x="461" y="352" width="1" height="40" fill="#089981"/>
<rect x="459" y="369" width="5" height="22" fill="#089981"/>
<rect x="467" y="363" width="1" height="22" fill="#089981"/>
<rect x="465" y="368" width="5" height="2" fill="#089981"/>
<rect x="472" y="325" width="1" height="48" fill="#089981"/>
<rect x="470" y="348" width="5" height="21" fill="#089981"/>
<rect x="478" y="325" width="1" height="48" fill="#089981"/>
<rect x="476" y="326" width="5" height="23" fill="#089981"/>
<rect x="483" y="293" width="1" height="35" fill="#089981"/>
<rect x="481" y="307" width="5" height="20" fill="#089981"/>
<rect x="489" y="251" width="1" height="77" fill="#089981"/>
<rect x="487" y="277" width="5" height="31" fill="#089981"/>
<rect x="494" y="245" width="1" height="33" fill="#089981"/>
<rect x="492" y="254" width="5" height="24" fill="#089981"/>
<rect x="500" y="227" width="1" height="43" fill="#f23645"/>
<rect x="498" y="254" width="5" height="6" fill="#f23645"/>
<rect x="505" y="251" width="1" height="25" fill="#f23645"/>
<rect x="503" y="259" width="5" height="1" fill="#f23645"/>
<rect x="511" y="256" width="1" height="45" fill="#f23645"/>
<rect x="509" y="260" width="5" height="35" fill="#f23645"/>
<rect x="516" y="281" width="1" height="35" fill="#f23645"/>
<rect x="514" y="295" width="5" height="17" fill="#f23645"/>
<rect x="522" y="305" width="1" height="22" fill="#f23645"/>
<rect x="520" y="311" width="5" height="1" fill="#f23645"/>
<rect x="527" y="300" width="1" height="38" fill="#f23645"/>
<rect x="525" y="311" width="5" height="27" fill="#f23645"/>
<rect x="532" y="330" width="1" height="31" fill="#f23645"/>
<rect x="530" y="338" width="5" height="14" fill="#f23645"/>
<rect x="538" y="320" width="1" height="37" fill="#f23645"/>
<rect x="536" y="351" width="5" height="2" fill="#f23645"/>
<rect x="543" y="343" width="1" height="28" fill="#089981"/>
<rect x="541" y="344" width="5" height="9" fill="#089981"/>
<rect x="549" y="308" width="1" height="57" fill="#f23645"/>
<rect x="547" y="344" width="5" height="14" fill="#f23645"/>
<rect x="554" y="321" width="1" height="62" fill="#089981"/>
<rect x="552" y="331" width="5" height="27" fill="#089981"/>
<rect x="560" y="322" width="1" height="45" fill="#f23645"/>
<rect x="558" y="331" width="5" height="32" fill="#f23645"/>
<rect x="565" y="362" width="1" height="52" fill="#f23645"/>
<rect x="563" y="362" width="5" height="35" fill="#f23645"/>
<rect x="571" y="384" width="1" height="62" fill="#f23645"/>
<rect x="569" y="397" width="5" height="4" fill="#f23645"/>
<rect x="576" y="379" width="1" height="35" fill="#089981"/>
<rect x="574" y="390" width="5" height="11" fill="#089981"/>
<rect x="582" y="350" width="1" height="53" fill="#089981"/>
<rect x="580" y="370" width="5" height="21" fill="#089981"/>
<rect x="587" y="321" width="1" height="56" fill="#089981"/>
<rect x="585" y="331" width="5" height="39" fill="#089981"/>
<rect x="593" y="229" width="1" height="111" fill="#089981"/>
<rect x="591" y="300" width="5" height="32" fill="#089981"/>
<rect x="598" y="263" width="1" height="48" fill="#089981"/>
<rect x="596" y="288" width="5" height="13" fill="#089981"/>
<rect x="604" y="279" width="1" height="53" fill="#f23645"/>
<rect x="602" y="288" width="5" height="42" fill="#f23645"/>
<rect x="609" y="321" width="1" height="36" fill="#f23645"/>
<rect x="607" y="329" width="5" height="24" fill="#f23645"/>
<rect x="614" y="251" width="1" height="109" fill="#089981"/>
<rect x="612" y="274" width="5" height="79" fill="#089981"/>
<rect x="620" y="183" width="1" height="98" fill="#089981"/>
<rect x="618" y="266" width="5" height="9" fill="#089981"/>
<rect x="625" y="199" width="1" height="106" fill="#f23645"/>
<rect x="623" y="266" width="5" height="36" fill="#f23645"/>
<rect x="631" y="276" width="1" height="46" fill="#089981"/>
<rect x="629" y="295" width="5" height="7" fill="#089981"/>
<rect x="636" y="275" width="1" height="64" fill="#f23645"/>
<rect x="634" y="295" width="5" height="37" fill="#f23645"/>
<rect x="642" y="292" width="1" height="40" fill="#089981"/>
<rect x="640" y="314" width="5" height="18" fill="#089981"/>
<rect x="647" y="300" width="1" height="40" fill="#f23645"/>
<rect x="645" y="314" width="5" height="19" fill="#f23645"/>
<rect x="653" y="307" width="1" height="32" fill="#089981"/>
<rect x="651" y="314" width="5" height="19" fill="#089981"/>
<rect x="658" y="300" width="1" height="25" fill="#089981"/>
<rect x="656" y="310" width="5" height="4" fill="#089981"/>
<rect x="664" y="284" width="1" height="46" fill="#089981"/>
<rect x="662" y="299" width="5" height="12" fill="#089981"/>
<rect x="669" y="286" width="1" height="54" fill="#f23645"/>
<rect x="667" y="299" width="5" height="3" fill="#f23645"/>
<rect x="675" y="253" width="1" height="95" fill="#f23645"/>
<rect x="673" y="301" width="5" height="42" fill="#f23645"/>
<rect x="680" y="332" width="1" height="45" fill="#f23645"/>
<rect x="678" y="343" width="5" height="9" fill="#f23645"/>
<rect x="686" y="338" width="1" height="37" fill="#f23645"/>
<rect x="684" y="351" width="5" height="6" fill="#f23645"/>
<rect x="691" y="352" width="1" height="28" fill="#f23645"/>
<rect x="689" y="357" width="5" height="1" fill="#f23645"/>
<rect x="697" y="312" width="1" height="49" fill="#089981"/>
<rect x="695" y="347" width="5" height="10" fill="#089981"/>
<rect x="702" y="282" width="1" height="75" fill="#089981"/>
<rect x="700" y="288" width="5" height="60" fill="#089981"/>
<rect x="707" y="259" width="1" height="30" fill="#089981"/>
<rect x="705" y="262" width="5" height="26" fill="#089981"/>
<rect x="713" y="255" width="1" height="46" fill="#f23645"/>
<rect x="711" y="262" width="5" height="32" fill="#f23645"/>
<rect x="718" y="291" width="1" height="30" fill="#f23645"/>
<rect x="716" y="293" width="5" height="4" fill="#f23645"/>
<rect x="724" y="271" width="1" height="31" fill="#089981"/>
<rect x="722" y="289" width="5" height="8" fill="#089981"/>
<rect x="729" y="287" width="1" height="37" fill="#f23645"/>
<rect x="727" y="289" width="5" height="12" fill="#f23645"/>
<rect x="735" y="265" width="1" height="42" fill="#089981"/>
<rect x="733" y="276" width="5" height="24" fill="#089981"/>
<rect x="740" y="246" width="1" height="53" fill="#089981"/>
<rect x="738" y="247" width="5" height="30" fill="#089981"/>
<rect x="746" y="246" width="1" height="38" fill="#f23645"/>
<rect x="744" y="247" width="5" height="23" fill="#f23645"/>
<rect x="751" y="242" width="1" height="50" fill="#089981"/>
<rect x="749" y="253" width="5" height="17" fill="#089981"/>
<rect x="757" y="219" width="1" height="37" fill="#089981"/>
<rect x="755" y="222" width="5" height="32" fill="#089981"/>
<rect x="762" y="179" width="1" height="44" fill="#089981"/>
<rect x="760" y="201" width="5" height="22" fill="#089981"/>
<rect x="768" y="198" width="1" height="40" fill="#f23645"/>
<rect x="766" y="201" width="5" height="33" fill="#f23645"/>
<rect x="773" y="230" width="1" height="53" fill="#f23645"/>
<rect x="771" y="233" width="5" height="32" fill="#f23645"/>
<rect x="779" y="227" width="1" height="42" fill="#089981"/>
<rect x="777" y="248" width="5" height="17" fill="#089981"/>
<rect x="784" y="238" width="1" height="27" fill="#f23645"/>
<rect x="782" y="248" width="5" height="13" fill="#f23645"/>
<rect x="789" y="257" width="1" height="37" fill="#f23645"/>
<rect x="787" y="260" width="5" height="6" fill="#f23645"/>
<rect x="795" y="246" width="1" height="42" fill="#f23645"/>
<rect x="793" y="266" width="5" height="13" fill="#f23645"/>
<rect x="800" y="266" width="1" height="32" fill="#f23645"/>
<rect x="798" y="279" width="5" height="9" fill="#f23645"/>
<rect x="806" y="263" width="1" height="26" fill="#089981"/>
<rect x="804" y="274" width="5" height="14" fill="#089981"/>
<rect x="811" y="222" width="1" height="62" fill="#089981"/>
<rect x="809" y="223" width="5" height="51" fill="#089981"/>
<rect x="817" y="223" width="1" height="57" fill="#f23645"/>
<rect x="815" y="223" width="5" height="52" fill="#f23645"/>
<rect x="822" y="268" width="1" height="19" fill="#f23645"/>
<rect x="820" y="275" width="5" height="5" fill="#f23645"/>
<rect x="828" y="258" width="1" height="25" fill="#f23645"/>
<rect x="826" y="279" width="5" height="1" fill="#f23645"/>
<rect x="833" y="263" width="1" height="21" fill="#089981"/>
<rect x="831" y="276" width="5" height="4" fill="#089981"/>
<rect x="839" y="262" width="1" height="22" fill="#089981"/>
<rect x="837" y="269" width="5" height="7" fill="#089981"/>
<rect x="844" y="265" width="1" height="24" fill="#f23645"/>
<rect x="842" y="269" width="5" height="19" fill="#f23645"/>
<rect x="850" y="286" width="1" height="27" fill="#f23645"/>
<rect x="848" y="286" width="5" height="26" fill="#f23645"/>
<rect x="855" y="279" width="1" height="33" fill="#089981"/>
<rect x="853" y="309" width="5" height="3" fill="#089981"/>
<rect x="861" y="302" width="1" height="25" fill="#f23645"/>
<rect x="859" y="309" width="5" height="18" fill="#f23645"/>
<rect x="866" y="301" width="1" height="26" fill="#089981"/>
<rect x="864" y="305" width="5" height="22" fill="#089981"/>
<rect x="871" y="297" width="1" height="18" fill="#f23645"/>
<rect x="869" y="305" width="5" height="4" fill="#f23645"/>
<rect x="877" y="299" width="1" height="17" fill="#f23645"/>
<rect x="875" y="309" width="5" height="7" fill="#f23645"/>
<rect x="882" y="304" width="1" height="20" fill="#089981"/>
<rect x="880" y="304" width="5" height="12" fill="#089981"/>
<rect x="888" y="288" width="1" height="52" fill="#089981"/>
<rect x="886" y="297" width="5" height="8" fill="#089981"/>
<rect x="893" y="192" width="1" height="107" fill="#089981"/>
<rect x="891" y="233" width="5" height="65" fill="#089981"/>
<rect x="899" y="225" width="1" height="48" fill="#f23645"/>
<rect x="897" y="233" width="5" height="21" fill="#f23645"/>
<rect x="904" y="232" width="1" height="40" fill="#089981"/>
<rect x="902" y="252" width="5" height="2" fill="#089981"/>
<rect x="910" y="239" width="1" height="34" fill="#f23645"/>
<rect x="908" y="252" width="5" height="4" fill="#f23645"/>
<rect x="915" y="194" width="1" height="66" fill="#089981"/>
<rect x="913" y="209" width="5" height="47" fill="#089981"/>
<rect x="921" y="207" width="1" height="30" fill="#f23645"/>
<rect x="919" y="209" width="5" height="19" fill="#f23645"/>
<rect x="926" y="214" width="1" height="27" fill="#089981"/>
<rect x="924" y="226" width="5" height="2" fill="#089981"/>
<rect x="932" y="220" width="1" height="23" fill="#f23645"/>
<rect x="930" y="226" width="5" height="7" fill="#f23645"/>
<rect x="937" y="228" width="1" height="23" fill="#f23645"/>
<rect x="935" y="233" width="5" height="1" fill="#f23645"/>
<rect x="943" y="210" width="1" height="32" fill="#089981"/>
<rect x="941" y="230" width="5" height="3" fill="#089981"/>
<rect x="948" y="219" width="1" height="33" fill="#f23645"/>
<rect x="946" y="230" width="5" height="4" fill="#f23645"/>
<rect x="953" y="230" width="1" height="28" fill="#f23645"/>
<rect x="951" y="234" width="5" height="11" fill="#f23645"/>
<rect x="959" y="245" width="1" height="56" fill="#f23645"/>
<rect x="957" y="245" width="5" height="55" fill="#f23645"/>
<rect x="964" y="261" width="1" height="40" fill="#089981"/>
<rect x="962" y="297" width="5" height="3" fill="#089981"/>
<rect x="970" y="291" width="1" height="21" fill="#f23645"/>
<rect x="968" y="297" width="5" height="2" fill="#f23645"/>
<rect x="975" y="290" width="1" height="16" fill="#f23645"/>
<rect x="973" y="299" width="5" height="5" fill="#f23645"/>
<rect x="981" y="269" width="1" height="41" fill="#089981"/>
<rect x="979" y="294" width="5" height="10" fill="#089981"/>
<rect x="986" y="268" width="1" height="36" fill="#089981"/>
<rect x="984" y="286" width="5" height="8" fill="#089981"/>
<rect x="992" y="269" width="1" height="38" fill="#f23645"/>
<rect x="990" y="286" width="5" height="20" fill="#f23645"/>
<rect x="997" y="298" width="1" height="40" fill="#f23645"/>
<rect x="995" y="306" width="5" height="29" fill="#f23645"/>
<rect x="1003" y="316" width="1" height="33" fill="#089981"/>
<rect x="1001" y="321" width="5" height="14" fill="#089981"/>
<rect x="1008" y="308" width="1" height="37" fill="#f23645"/>
<rect x="1006" y="321" width="5" height="10" fill="#f23645"/>
<rect x="1014" y="322" width="1" height="32" fill="#f23645"/>
<rect x="1012" y="331" width="5" height="8" fill="#f23645"/>
<rect x="1019" y="309" width="1" height="37" fill="#f23645"/>
<rect x="1017" y="339" width="5" height="6" fill="#f23645"/>
<rect x="1025" y="344" width="1" height="47" fill="#f23645"/>
<rect x="1023" y="344" width="5" height="33" fill="#f23645"/>
<rect x="1030" y="374" width="1" height="41" fill="#f23645"/>
<rect x="1028" y="376" width="5" height="24" fill="#f23645"/>
<rect x="1036" y="379" width="1" height="36" fill="#089981"/>
<rect x="1034" y="399" width="5" height="1" fill="#089981"/>
<rect x="1041" y="387" width="1" height="28" fill="#f23645"/>
<rect x="1039" y="399" width="5" height="8" fill="#f23645"/>
<rect x="1046" y="404" width="1" height="47" fill="#f23645"/>
<rect x="1044" y="406" width="5" height="36" fill="#f23645"/>
<rect x="1052" y="425" width="1" height="34" fill="#089981"/>
<rect x="1050" y="431" width="5" height="11" fill="#089981"/>
<rect x="1057" y="400" width="1" height="50" fill="#089981"/>
<rect x="1055" y="401" width="5" height="31" fill="#089981"/>
<rect x="1063" y="389" width="1" height="34" fill="#f23645"/>
<rect x="1061" y="401" width="5" height="9" fill="#f23645"/>
<rect x="1068" y="352" width="1" height="73" fill="#089981"/>
<rect x="1066" y="365" width="5" height="45" fill="#089981"/>
<rect x="1074" y="312" width="1" height="55" fill="#089981"/>
<rect x="1072" y="320" width="5" height="46" fill="#089981"/>
<rect x="1079" y="308" width="1" height="35" fill="#f23645"/>
<rect x="1077" y="320" width="5" height="5" fill="#f23645"/>
<rect x="1085" y="309" width="1" height="33" fill="#f23645"/>
<rect x="1083" y="324" width="5" height="2" fill="#f23645"/>
<rect x="1090" y="283" width="1" height="47" fill="#089981"/>
<rect x="1088" y="307" width="5" height="19" fill="#089981"/>
<rect x="1096" y="268" width="1" height="44" fill="#089981"/>
<rect x="1094" y="284" width="5" height="24" fill="#089981"/>
<rect x="1101" y="269" width="1" height="53" fill="#f23645"/>
<rect x="1099" y="284" width="5" height="36" fill="#f23645"/>
<rect x="1107" y="318" width="1" height="20" fill="#f23645"/>
<rect x="1105" y="319" width="5" height="6" fill="#f23645"/>
<rect x="1112" y="287" width="1" height="42" fill="#089981"/>
<rect x="1110" y="320" width="5" height="4" fill="#089981"/>
<rect x="1118" y="292" width="1" height="29" fill="#089981"/>
<rect x="1116" y="307" width="5" height="14" fill="#089981"/>
<rect x="1123" y="300" width="1" height="48" fill="#f23645"/>
<rect x="1121" y="307" width="5" height="25" fill="#f23645"/>
<rect x="1128" y="299" width="1" height="36" fill="#089981"/>
<rect x="1126" y="305" width="5" height="28" fill="#089981"/>
<rect x="1134" y="274" width="1" height="35" fill="#089981"/>
<rect x="1132" y="298" width="5" height="8" fill="#089981"/>
<rect x="1139" y="296" width="1" height="18" fill="#f23645"/>
<rect x="1137" y="298" width="5" height="11" fill="#f23645"/>
<rect x="1145" y="300" width="1" height="19" fill="#f23645"/>
<rect x="1143" y="309" width="5" height="9" fill="#f23645"/>
<rect x="1150" y="299" width="1" height="23" fill="#089981"/>
<rect x="1148" y="305" width="5" height="13" fill="#089981"/>
<rect x="1156" y="296" width="1" height="17" fill="#f23645"/>
<rect x="1154" y="305" width="5" height="6" fill="#f23645"/>
<rect x="1161" y="297" width="1" height="18" fill="#089981"/>
<rect x="1159" y="303" width="5" height="8" fill="#089981"/>
<rect x="1167" y="287" width="1" height="19" fill="#089981"/>
<rect x="1165" y="296" width="5" height="8" fill="#089981"/>
<rect x="1172" y="283" width="1" height="29" fill="#f23645"/>
<rect x="1170" y="296" width="5" height="12" fill="#f23645"/>
<rect x="1178" y="274" width="1" height="31" fill="#089981"/>
<rect x="1176" y="283" width="5" height="22" fill="#089981"/>
<rect x="1183" y="258" width="1" height="28" fill="#f23645"/>
<rect x="1181" y="282" width="5" height="4" fill="#f23645"/>
<rect x="1189" y="263" width="1" height="24" fill="#089981"/>
<rect x="1187" y="272" width="5" height="14" fill="#089981"/>
<rect x="1194" y="263" width="1" height="12" fill="#089981"/>
<rect x="1192" y="263" width="5" height="9" fill="#089981"/>
<rect x="1200" y="263" width="1" height="58" fill="#f23645"/>
<rect x="1198" y="263" width="5" height="30" fill="#f23645"/>
<rect x="1205" y="272" width="1" height="28" fill="#089981"/>
<rect x="1203" y="287" width="5" height="10" fill="#089981"/>
<rect x="1210" y="263" width="1" height="41" fill="#089981"/>
<rect x="1208" y="273" width="5" height="15" fill="#089981"/>
<rect x="1216" y="267" width="1" height="31" fill="#f23645"/>
<rect x="1214" y="270" width="5" height="6" fill="#f23645"/>
<rect x="1221" y="204" width="1" height="73" fill="#089981"/>
<rect x="1219" y="229" width="5" height="47" fill="#089981"/>
<rect x="1227" y="195" width="1" height="49" fill="#089981"/>
<rect x="1225" y="224" width="5" height="6" fill="#089981"/>
<rect x="1232" y="212" width="1" height="23" fill="#f23645"/>
<rect x="1230" y="223" width="5" height="5" fill="#f23645"/>
<rect x="1238" y="185" width="1" height="43" fill="#089981"/>
<rect x="1236" y="188" width="5" height="40" fill="#089981"/>
<rect x="1243" y="181" width="1" height="30" fill="#f23645"/>
<rect x="1241" y="189" width="5" height="20" fill="#f23645"/>
<rect x="1249" y="173" width="1" height="36" fill="#089981"/>
<rect x="1247" y="187" width="5" height="22" fill="#089981"/>
<rect x="1254" y="160" width="1" height="31" fill="#089981"/>
<rect x="1252" y="163" width="5" height="24" fill="#089981"/>
<rect x="1260" y="152" width="1" height="27" fill="#f23645"/>
<rect x="1258" y="163" width="5" height="16" fill="#f23645"/>
<rect x="1265" y="163" width="1" height="16" fill="#089981"/>
<rect x="1263" y="174" width="5" height="5" fill="#089981"/>
<rect x="1271" y="165" width="1" height="21" fill="#f23645"/>
<rect x="1269" y="174" width="5" height="5" fill="#f23645"/>
<line x1="3" x2="1328" y1="178.5" y2="178.5" stroke="#f23645" stroke-width="1" stroke-dasharray="1 2"/>
<polyline points="3.0,608.6 2.5,608.6 8.5,615.3 13.5,623.3 19.5,621.4 24.5,611.3 29.5,602.0 35.5,599.9 40.5,601.2 46.5,607.3 51.5,632.6 57.5,669.9 62.5,715.1 68.5,741.8 73.5,760.4 79.5,775.8 84.5,781.2 90.5,768.4 95.5,729.8 101.5,689.8 106.5,653.9 111.5,638.5 117.5,630.5 122.5,634.7 128.5,640.6 133.5,644.6 139.5,654.7 144.5,669.9 150.5,685.8 155.5,679.2 161.5,672.5 166.5,673.9 172.5,693.8 177.5,713.8 183.5,733.8 188.5,756.4 193.5,776.4 199.5,787.0 204.5,795.5 210.5,794.5 215.5,793.7 221.5,789.1 226.5,797.1 232.5,812.3 237.5,823.8 243.5,827.8 248.5,827.8 254.5,825.6 259.5,816.3 265.5,800.3 270.5,771.0 275.5,741.8 281.5,713.8 286.5,708.5 292.5,709.8 297.5,704.0 303.5,681.9 308.5,655.2 314.5,632.6 319.5,614.0 325.5,608.6 330.5,610.0 336.5,611.3 341.5,615.3 347.5,628.6 352.5,669.9 358.5,723.1 363.5,779.0 368.5,800.3 374.5,800.9 379.5,794.5 385.5,807.0 390.5,810.4 396.5,813.6 401.5,808.3 407.5,784.4 412.5,733.8 418.5,688.5 423.5,648.6 429.5,621.9 434.5,618.0 440.5,629.9 445.5,639.3 450.5,633.9 456.5,618.0 461.5,606.0 467.5,600.1 472.5,598.5 478.5,598.0 483.5,598.0 489.5,598.0 494.5,598.0 500.5,600.1 505.5,602.8 511.5,616.6 516.5,643.2 522.5,689.8 527.5,744.4 532.5,781.7 538.5,811.0 543.5,821.6 549.5,823.0 554.5,815.0 560.5,808.8 565.5,808.3 571.5,815.0 576.5,819.5 582.5,815.0 587.5,785.7 593.5,735.1 598.5,667.2 604.5,633.9 609.5,637.9 614.5,661.4 620.5,668.5 625.5,653.9 631.5,643.2 636.5,653.4 642.5,675.2 647.5,700.5 653.5,714.6 658.5,733.8 664.5,740.4 669.5,742.3 675.5,745.8 680.5,764.4 686.5,795.0 691.5,819.0 697.5,823.0 702.5,792.3 707.5,739.1 713.5,675.2 718.5,648.6 724.5,656.0 729.5,677.9 735.5,683.2 740.5,673.9 746.5,656.6 751.5,640.6 757.5,629.4 762.5,621.4 768.5,621.4 773.5,645.9 779.5,704.5 784.5,765.7 789.5,800.3 795.5,816.3 800.5,821.6 806.5,823.0 811.5,805.7 817.5,783.0 822.5,767.8 828.5,784.4 833.5,800.3 839.5,807.8 844.5,805.1 850.5,803.0 855.5,812.3 861.5,819.5 866.5,817.6 871.5,807.0 877.5,789.7 882.5,779.0 888.5,760.4 893.5,715.1 899.5,672.5 904.5,645.9 910.5,641.1 915.5,641.1 921.5,640.6 926.5,632.6 932.5,636.6 937.5,644.6 943.5,656.6 948.5,665.9 953.5,675.2 959.5,700.5 964.5,751.1 970.5,795.0 975.5,815.0 981.5,821.1 986.5,813.6 992.5,804.3 997.5,802.5 1003.5,805.1 1008.5,807.0 1014.5,805.1 1019.5,808.3 1025.5,816.8 1030.5,823.8 1036.5,826.4 1041.5,826.4 1046.5,826.4 1052.5,821.6 1057.5,802.5 1063.5,769.7 1068.5,709.8 1074.5,664.5 1079.5,627.3 1085.5,610.0 1090.5,602.8 1096.5,602.0 1101.5,607.3 1107.5,615.8 1112.5,631.3 1118.5,640.6 1123.5,646.4 1128.5,648.0 1134.5,651.8 1139.5,657.9 1145.5,683.2 1150.5,708.5 1156.5,739.1 1161.5,747.1 1167.5,740.4 1172.5,723.1 1178.5,701.8 1183.5,671.2 1189.5,637.9 1194.5,619.8 1200.5,625.9 1205.5,660.6 1210.5,711.1 1216.5,729.8 1221.5,713.8 1227.5,675.2 1232.5,636.6 1238.5,615.3 1243.5,613.4 1249.5,623.3 1254.5,633.9 1260.5,633.4 1265.5,632.6 1271.5,639.8" fill="none" stroke="#ffa500" stroke-opacity="1.0" stroke-width="1.2" stroke-linejoin="round" shape-rendering="geometricPrecision"/>
<polyline points="3.0,615.3 2.5,615.3 8.5,627.3 13.5,627.3 19.5,610.0 24.5,598.8 29.5,600.6 35.5,600.1 40.5,602.0 46.5,620.6 51.5,665.9 57.5,720.5 62.5,751.1 68.5,755.1 73.5,773.7 79.5,800.3 84.5,771.0 90.5,723.1 95.5,675.2 101.5,660.6 106.5,628.6 111.5,625.9 117.5,635.8 122.5,645.1 128.5,643.2 133.5,644.6 139.5,669.9 144.5,692.0 150.5,691.2 155.5,650.7 161.5,672.5 166.5,692.5 172.5,721.8 177.5,729.8 183.5,753.7 188.5,776.4 193.5,792.3 199.5,788.3 204.5,807.8 210.5,789.1 215.5,784.4 221.5,792.3 226.5,811.0 232.5,827.8 237.5,827.8 243.5,827.8 248.5,827.8 254.5,823.0 259.5,803.0 265.5,776.4 270.5,739.1 275.5,704.5 281.5,703.2 286.5,718.3 292.5,707.1 297.5,685.8 303.5,647.2 308.5,633.9 314.5,608.6 319.5,601.4 325.5,615.3 330.5,612.6 336.5,611.8 341.5,616.6 347.5,653.9 352.5,717.8 358.5,781.7 363.5,819.0 368.5,794.5 374.5,791.0 379.5,803.0 385.5,813.6 390.5,816.8 396.5,810.4 401.5,796.3 407.5,741.8 412.5,691.2 418.5,645.9 423.5,619.3 429.5,603.3 434.5,629.9 440.5,645.1 445.5,642.7 450.5,614.5 456.5,601.2 461.5,599.3 467.5,599.3 472.5,598.0 478.5,598.0 483.5,598.0 489.5,598.0 494.5,598.0 500.5,602.0 505.5,606.5 511.5,641.9 516.5,688.5 522.5,739.1 527.5,788.3 532.5,808.3 538.5,827.0 543.5,821.6 549.5,821.6 554.5,803.5 560.5,809.6 565.5,810.4 571.5,827.8 576.5,821.6 582.5,795.0 587.5,728.4 593.5,661.9 598.5,611.3 604.5,629.4 609.5,674.7 614.5,680.0 620.5,653.9 625.5,629.9 631.5,647.2 636.5,684.5 642.5,693.8 647.5,721.8 653.5,731.1 658.5,749.7 664.5,741.8 669.5,735.1 675.5,760.4 680.5,792.3 686.5,827.8 691.5,827.8 697.5,812.3 702.5,739.1 707.5,660.6 713.5,626.7 718.5,659.2 724.5,682.7 729.5,691.2 735.5,675.2 740.5,653.9 746.5,637.4 751.5,629.4 757.5,629.4 762.5,608.1 768.5,623.3 773.5,701.8 779.5,765.7 784.5,810.4 789.5,811.0 795.5,825.6 800.5,827.8 806.5,816.3 811.5,768.9 817.5,762.5 822.5,768.9 828.5,813.6 833.5,813.6 839.5,799.0 844.5,803.0 850.5,809.6 855.5,825.6 861.5,825.6 866.5,805.7 871.5,792.3 877.5,777.7 882.5,773.7 888.5,741.8 893.5,672.5 899.5,637.4 904.5,633.9 910.5,653.9 915.5,635.8 921.5,633.9 926.5,627.3 932.5,647.2 937.5,657.9 943.5,664.5 948.5,669.9 953.5,691.2 959.5,740.4 964.5,792.3 970.5,824.3 975.5,824.3 981.5,815.0 986.5,801.7 992.5,798.2 997.5,807.0 1003.5,809.6 1008.5,804.3 1014.5,801.7 1019.5,815.8 1025.5,824.8 1030.5,827.8 1036.5,825.6 1041.5,825.6 1046.5,825.6 1052.5,816.3 1057.5,776.4 1063.5,728.4 1068.5,657.9 1074.5,628.6 1079.5,600.1 1085.5,602.8 1090.5,602.8 1096.5,601.4 1101.5,615.3 1107.5,631.3 1112.5,647.2 1118.5,643.2 1123.5,649.9 1128.5,651.2 1134.5,653.1 1139.5,665.9 1145.5,712.5 1150.5,743.1 1156.5,757.7 1161.5,741.8 1167.5,724.5 1172.5,708.5 1178.5,667.2 1183.5,641.9 1189.5,607.3 1194.5,607.3 1200.5,664.5 1205.5,709.8 1210.5,749.7 1216.5,725.8 1221.5,669.9 1227.5,633.9 1232.5,604.6 1238.5,604.6 1243.5,629.9 1249.5,635.8 1254.5,635.8 1260.5,629.4 1265.5,632.6 1271.5,655.2" fill="none" stroke="#2929ff" stroke-opacity="1.0" stroke-width="1.2" stroke-linejoin="round" shape-rendering="geometricPrecision"/>
<rect x="10" y="93" width="198" height="30" fill="#fff" fill-opacity="0.5"/>
<rect x="10" y="123" width="420" height="31" fill="#fff" fill-opacity="0.5"/>
<rect x="10" y="576" width="296" height="27" fill="#fff" fill-opacity="0.5"/>
<rect x="0" y="569" width="1403" height="1" fill="#e3e3e3"/>
<rect x="0" y="887" width="1403" height="1" fill="#e3e3e3"/>
<rect x="609" y="898" width="1" height="28" fill="#e6e6e6"/>
</svg>

<!-- header -->
<svg class="abs" style="left:13px;top:13px" width="26" height="27" viewBox="13 13 26 27">
  <circle cx="29.8" cy="22.1" r="7.1" fill="#f3f5f9"/>
  <clipPath id="cac"><circle cx="29.8" cy="22.1" r="7.1"/></clipPath>
  <g clip-path="url(#cac)">
    <rect x="21" y="14" width="4.2" height="17" fill="#e53935"/>
    <rect x="34.2" y="14" width="4.2" height="17" fill="#e53935"/>
    <path d="M29.9 18.6 L31 20.4 L32.4 20 L31.8 22.6 L30.3 22.4 L30.2 24 L29.6 24 L29.5 22.4 L28 22.6 L27.4 20 L28.8 20.4 Z" fill="#e53935"/>
  </g>
  <circle cx="22.05" cy="30.05" r="8" fill="#fff"/>
  <circle cx="22.05" cy="30.05" r="7.1" fill="#1565c0"/>
  <g fill="#e6cf3a">
    <rect x="21.4" y="24.8" width="1.4" height="1.1"/><rect x="21.4" y="34.2" width="1.4" height="1.1"/>
    <rect x="16.8" y="29.5" width="1.1" height="1.3"/><rect x="26.2" y="29.5" width="1.1" height="1.3"/>
    <rect x="18.2" y="26.2" width="1.3" height="1.2"/><rect x="24.6" y="26.2" width="1.3" height="1.2"/>
    <rect x="18.2" y="32.6" width="1.3" height="1.2"/><rect x="24.6" y="32.6" width="1.3" height="1.2"/>
  </g>
</svg>
<div class="abs" id="title" style="left:41px;top:13px;font-size:20px;letter-spacing:-0.18px;line-height:26px;color:#131722">Euro /Đô la Canada · 1M · OANDA</div>
<div class="abs" style="left:356px;top:15px;width:50px;height:22px;border-radius:11px;overflow:hidden;background:#f0f0f0">
  <div class="abs" style="left:25px;top:0;width:25px;height:22px;background:#f7c8dc"></div>
  <div class="abs" style="left:8px;top:8.5px;width:12px;height:5px;border-radius:3px;background:#9a9a9a"></div>
  <svg class="abs" style="left:25px;top:0" width="25" height="22"><path d="M6.6 9.6 q2.3 -2.4 4.6 0 t4.6 0 M6.6 14 q2.3 -2.4 4.6 0 t4.6 0" fill="none" stroke="#e0245e" stroke-width="2" stroke-linecap="round"/></svg>
</div>
<div class="abs" id="ohlc" style="left:417px;top:16px;font-size:16.3px;line-height:20px;color:#131722">O<span style="color:#f23645">1.62073</span>&nbsp; H<span style="color:#f23645">1.63189</span>&nbsp; L<span style="color:#f23645">1.60657</span>&nbsp; C<span style="color:#f23645">1.61600</span>&nbsp; <span style="color:#f23645">−0.00502 (−0.31%)</span></div>

<!-- sell / buy -->
<div class="abs" style="left:13px;top:46px;width:84px;height:42px;box-sizing:border-box;border:1px solid #f23645;border-radius:7px;background:#fff"></div>
<div class="abs" style="left:13px;top:49.3px;width:84px;text-align:center;font-size:14.6px;line-height:17px;font-weight:bold;letter-spacing:0.5px;color:#f23645">1.6154<span style="font-size:13px;vertical-align:1.5px;font-weight:normal">4</span></div>
<div class="abs" style="left:13px;top:67.7px;width:84px;text-align:center;font-size:14px;line-height:16px;color:#f23645">BÁN</div>
<div class="abs" style="left:108px;top:59.5px;font-size:12px;line-height:14px;color:#131722">11.3</div>
<div class="abs" style="left:141px;top:46px;width:84px;height:42px;box-sizing:border-box;border:1px solid #2962ff;border-radius:7px;background:#fff"></div>
<div class="abs" style="left:141px;top:49.3px;width:84px;text-align:center;font-size:14.6px;line-height:17px;font-weight:bold;letter-spacing:0.5px;color:#2962ff">1.6165<span style="font-size:13px;vertical-align:1.5px;font-weight:normal">7</span></div>
<div class="abs" style="left:141px;top:67.7px;width:84px;text-align:center;font-size:14px;line-height:16px;color:#2962ff">MUA</div>

<!-- legends -->
<div class="abs leg" style="left:13.5px;top:98.2px;color:#131722">Khối lượng · Ticks</div>
<div class="abs leg" style="left:156.7px;top:98.2px;color:#ef5350">1.79&#8201;M</div>
<div class="abs leg" style="left:13.5px;top:128.2px;color:#131722">EMA 20/50/100/200</div>
<div class="abs leg" style="left:166.2px;top:128.2px;color:#ff0000">1.55654</div>
<div class="abs leg" style="left:233.4px;top:128.2px;color:#ff7f00">1.50977</div>
<div class="abs leg" style="left:299.7px;top:128.2px;color:#00f0f0">1.48923</div>
<div class="abs leg" style="left:365.6px;top:128.2px;color:#0000ff">1.47208</div>
<div class="abs" style="left:14px;top:157px;width:35px;height:25px;box-sizing:border-box;border:1px solid #dedede;border-radius:4px;background:#fff"></div>
<svg class="abs" style="left:14px;top:157px" width="35" height="25"><path d="M11.8 14.8 L16.6 10.2 L21.4 14.8" fill="none" stroke="#131722" stroke-width="1.6"/></svg>
<div class="abs leg" style="left:13.5px;top:580.2px;color:#131722">Stoch RSI</div>
<div class="abs leg" style="left:90.3px;top:580.2px;color:#686b73">3 3 14 14 close</div>
<div class="abs leg" style="left:212.5px;top:580.2px;color:#2929ff">75.30</div>
<div class="abs leg" style="left:260.6px;top:580.2px;color:#ffa500">82.13</div>

<!-- TradingView logo -->
<svg class="abs" style="left:17px;top:814px" width="42" height="22" viewBox="17 814 42 22">
  <path d="M18.2 815.7 H33.4 V834.5 H25 V822.2 H18.2 Z" fill="#131722"/>
  <circle cx="39.8" cy="819.2" r="3.4" fill="#131722"/>
  <path d="M46.3 815.7 H55.6 L48.4 834.5 H39.1 Z" fill="#131722"/>
</svg>
<div class="abs" style="left:63.5px;top:810px;font-size:25.5px;line-height:30px;font-weight:bold;color:#131722;letter-spacing:0.12px">TradingView</div>

<!-- price axis -->
<div class="pl" style="top:12.3px">1.80000</div>
<div class="pl" style="top:55.0px">1.75000</div>
<div class="pl" style="top:97.7px">1.70000</div>
<div class="pl" style="top:140.4px">1.65000</div>
<div class="pl" style="top:183.1px">1.60000</div>
<div class="pl" style="top:225.8px">1.55000</div>
<div class="pl" style="top:268.4px">1.50000</div>
<div class="pl" style="top:311.1px">1.45000</div>
<div class="pl" style="top:353.8px">1.40000</div>
<div class="pl" style="top:396.5px">1.35000</div>
<div class="pl" style="top:439.2px">1.30000</div>
<div class="pl" style="top:481.9px">1.25000</div>
<div class="pl" style="top:524.6px">1.20000</div>
<div class="pl" style="top:589.3px">100.00</div>
<div class="pl" style="top:635.3px">80.00</div>
<div class="pl" style="top:681.2px">60.00</div>
<div class="pl" style="top:727.2px">40.00</div>
<div class="pl" style="top:773.1px">20.00</div>
<div class="pl" style="top:819.1px">0.00</div>
<div class="lbl" style="top:168px;height:39px;background:#f23645;color:#fff;line-height:18px;padding-top:2px">1.61600<br><span style="color:#fcd6da">10d 6h</span></div>
<div class="lbl" style="top:219px;background:#ff0000;color:#fff">1.55654</div>
<div class="lbl" style="top:259px;height:20.5px;background:#ff7700;color:#fff">1.50977</div>
<div class="lbl" style="top:279.5px;background:#00ffff;color:#131722">1.48923</div>
<div class="lbl" style="top:300.5px;background:#0000ff;color:#fff">1.47208</div>
<div class="lbl" style="top:539px;width:59px;background:#ef5350;color:#fff;padding-top:1px;line-height:20px">1.79&#8201;M</div>
<div class="lbl" style="top:624px;width:54px;background:#ffb300;color:#131722">82.13</div>
<div class="lbl" style="top:645px;width:54px;background:#3030ff;color:#fff">75.30</div>

<!-- time axis -->
<div class="yr" style="left:-0.5px">2007</div><div class="yr" style="left:65.5px">2008</div><div class="yr" style="left:131.5px">2009</div><div class="yr" style="left:196.5px">2010</div><div class="yr" style="left:262.5px">2011</div><div class="yr" style="left:328.5px">2012</div><div class="yr" style="left:393.5px">2013</div><div class="yr" style="left:459.5px">2014</div><div class="yr" style="left:524.5px">2015</div><div class="yr" style="left:590.5px">2016</div><div class="yr" style="left:656.5px">2017</div><div class="yr" style="left:721.5px">2018</div><div class="yr" style="left:787.5px">2019</div><div class="yr" style="left:852.5px">2020</div><div class="yr" style="left:918.5px">2021</div><div class="yr" style="left:984.5px">2022</div><div class="yr" style="left:1049.5px">2023</div><div class="yr" style="left:1115.5px">2024</div><div class="yr" style="left:1180.5px">2025</div><div class="yr" style="left:1246.5px">2026</div>
<svg class="abs" style="left:1357px;top:861px" width="21" height="19" viewBox="0 0 21 19"><path d="M6 1.5 H15 L19.3 9.2 L15 16.8 H6 L1.7 9.2 Z" fill="none" stroke="#131722" stroke-width="1.3"/><circle cx="10.5" cy="9.3" r="2.2" fill="none" stroke="#131722" stroke-width="1.2"/></svg>

<!-- bottom toolbar -->
<div class="tb" style="left:21.8px">1Ngày</div>
<div class="tb" style="left:86.4px">5Ngày</div>
<div class="tb" style="left:153.5px">1Tháng</div>
<div class="tb" style="left:226.4px">3Tháng</div>
<div class="tb" style="left:300.5px">6 tháng</div>
<div class="tb" style="left:374.4px">YTD</div>
<div class="tb" style="left:425px">1Năm</div>
<div class="tb" style="left:485.7px">5Năm</div>
<div class="tb" style="left:547.9px">Tất cả</div>
<svg class="abs" style="left:622px;top:896px" width="32" height="30" viewBox="622 896 32 30"><path d="M627.8 909.5 V904.6 a2.6 2.6 0 0 1 2.6 -2.6 H646.4 a2.6 2.6 0 0 1 2.6 2.6 V918.3 a2.6 2.6 0 0 1 -2.6 2.6 H638.5 M627.8 907 H649 M634.2 899.3 V903.6 M642.8 899.3 V903.6 M626.1 917.2 H635.5 M631.3 912.8 L635.6 917.2 L631.3 921.6" fill="none" stroke="#131722" stroke-width="1.5"/></svg>
<div class="abs" style="left:1269px;top:901.8px;font-size:17.2px;line-height:20px;color:#131722">23:55:12 UTC+7</div>
</body></html>
